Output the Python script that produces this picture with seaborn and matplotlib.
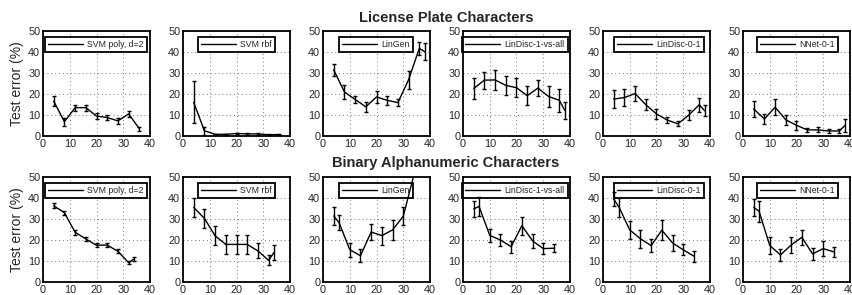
import numpy as np
import seaborn as sns
from matplotlib import pyplot as plt

# ---- data ----
methods = ["SVM poly, d=2", "SVM rbf", "LinGen", "LinDisc-1-vs-all", "LinDisc-0-1", "NNet-0-1"]

# License plate characters (top row)
lp_x_a = [4, 8, 12, 16, 20, 24, 28, 32, 36]
lp_x_b = [4, 8, 12, 16, 20, 24, 28, 32, 36, 38]
lp_svm_poly = [16.6, 6.8, 13.5, 13.5, 9.5, 8.8, 7.2, 10.5, 3.5]
lp_svm_poly_err = [2.5, 1.8, 1.5, 1.5, 1.3, 1.0, 1.5, 1.5, 1.0]
lp_svm_rbf = [16.0, 2.5, 0.8, 0.8, 1.2, 1.0, 1.0, 0.6, 0.7]
lp_svm_rbf_err = [10.0, 2.0, 0.3, 0.3, 0.4, 0.3, 0.3, 0.2, 0.3]
lp_lingen = [31.5, 21.0, 17.4, 13.9, 18.6, 17.0, 15.9, 26.8, 41.7, 40.2]
lp_lingen_err = [3.0, 3.2, 1.8, 2.5, 3.0, 2.0, 1.8, 4.3, 3.2, 4.0]
lp_lindisc1 = [22.6, 26.6, 26.7, 24.1, 23.0, 19.2, 22.8, 18.8, 17.0, 12.3]
lp_lindisc1_err = [4.8, 4.0, 4.7, 4.6, 4.4, 4.5, 3.8, 4.9, 5.5, 4.0]
lp_lindisc01 = [17.6, 18.3, 20.2, 14.9, 10.5, 7.6, 5.8, 9.9, 14.9, 12.0]
lp_lindisc01_err = [4.2, 4.1, 3.5, 2.6, 2.5, 1.4, 1.2, 2.4, 3.4, 2.6]
lp_nnet = [12.9, 8.1, 13.7, 7.7, 5.1, 2.9, 2.9, 2.4, 2.4, 4.9]
lp_nnet_err = [3.8, 2.6, 3.8, 2.3, 2.1, 1.1, 1.2, 1.0, 1.0, 3.0]

# Binary alphanumeric characters (bottom row)
ba_x_a = [4, 8, 12, 16, 20, 24, 28, 32, 34]
ba_x_b = [4, 6, 10, 14, 18, 22, 26, 30, 34]
ba_svm_poly = [36.3, 33.0, 23.7, 20.5, 17.5, 17.6, 14.6, 9.2, 10.9]
ba_svm_poly_err = [1.2, 1.0, 1.2, 1.0, 1.0, 1.0, 1.0, 0.8, 0.8]
ba_svm_rbf = [35.5, 30.3, 22.0, 17.9, 17.9, 17.9, 14.8, 10.3, 14.0]
ba_svm_rbf_err = [4.7, 4.5, 4.5, 4.5, 4.5, 4.5, 3.6, 2.4, 3.6]
ba_lingen = [31.5, 28.3, 15.4, 12.5, 23.8, 22.1, 24.8, 31.3, 51.0]
ba_lingen_err = [4.3, 3.4, 3.4, 3.0, 3.8, 4.3, 4.6, 4.3, 0.0]
ba_lindisc1 = [34.8, 36.0, 22.2, 20.0, 16.8, 26.8, 19.6, 15.9, 16.1]
ba_lindisc1_err = [3.7, 4.6, 3.2, 2.8, 2.9, 4.2, 3.2, 2.7, 1.8]
ba_lindisc01 = [39.5, 35.6, 24.8, 20.6, 17.3, 24.7, 18.6, 15.3, 12.3]
ba_lindisc01_err = [3.5, 4.6, 4.2, 4.3, 3.0, 4.8, 3.6, 2.6, 2.7]
ba_nnet = [35.5, 33.7, 17.4, 12.9, 17.6, 21.3, 13.4, 15.9, 14.3]
ba_nnet_err = [4.2, 5.1, 4.0, 3.0, 3.7, 3.6, 3.0, 3.4, 2.2]

rows = [
    [(lp_x_a, lp_svm_poly, lp_svm_poly_err), (lp_x_a, lp_svm_rbf, lp_svm_rbf_err),
     (lp_x_b, lp_lingen, lp_lingen_err), (lp_x_b, lp_lindisc1, lp_lindisc1_err),
     (lp_x_b, lp_lindisc01, lp_lindisc01_err), (lp_x_b, lp_nnet, lp_nnet_err)],
    [(ba_x_a, ba_svm_poly, ba_svm_poly_err), (ba_x_a, ba_svm_rbf, ba_svm_rbf_err),
     (ba_x_b, ba_lingen, ba_lingen_err), (ba_x_b, ba_lindisc1, ba_lindisc1_err),
     (ba_x_b, ba_lindisc01, ba_lindisc01_err), (ba_x_b, ba_nnet, ba_nnet_err)],
]
row_titles = ["License Plate Characters", "Binary Alphanumeric Characters"]
# where each legend box ends (fraction of axes width)
legend_right = [0.97, 0.86, 0.84, None, 0.94, 0.89]

sns.set_style("white")
plt.rcParams['font.family'] = ['Liberation Sans', 'DejaVu Sans']

W, H = 853, 295
fig = plt.figure(figsize=(W / 100, H / 100), dpi=100)

row_top = [31, 177]
for r in range(2):
    for c in range(6):
        left = 43 + 140 * c
        ax = fig.add_axes([left / W, 1 - (row_top[r] + 105) / H, 107 / W, 105 / H])
        x, y, e = rows[r][c]
        sns.lineplot(x=x, y=y, ax=ax, color="k", lw=1, label=methods[c], zorder=3)
        x_arr, y_arr, e_arr = np.array(x), np.array(y), np.array(e)
        m = e_arr > 0
        ax.errorbar(x_arr[m], y_arr[m], yerr=e_arr[m], fmt="none", ecolor="k",
                    elinewidth=1, capsize=1.5, capthick=1, zorder=3)
        for ln in ax.lines:
            ln.set_clip_on(True)
            ln.set_clip_box(ax.bbox)
        for coll in ax.collections:
            coll.set_clip_on(True)
            coll.set_clip_box(ax.bbox)
        ax.set_xlim(0, 40)
        ax.set_ylim(0, 50)
        ax.set_xticks([0, 10, 20, 30, 40])
        ax.set_yticks([0, 10, 20, 30, 40, 50])
        ax.tick_params(labelsize=7.8, length=0, pad=2)
        ax.grid(True, ls=(0, (1, 3)), color="#777777", lw=0.7)
        for s in ax.spines.values():
            s.set_color("k")
            s.set_linewidth(1.3)
        if c == 0:
            ax.set_ylabel("Test error (%)", fontsize=10, labelpad=3)
        if legend_right[c] is None:
            leg = ax.legend(loc="upper left", bbox_to_anchor=(-0.01, 0.943), borderaxespad=0,
                            borderpad=0.35, handlelength=4.0, handletextpad=0.5, fontsize=6.3)
        else:
            leg = ax.legend(loc="upper right", bbox_to_anchor=(legend_right[c], 0.943),
                            borderaxespad=0, borderpad=0.35, handlelength=4.0,
                            handletextpad=0.5, fontsize=6.3)
        leg.get_frame().set_edgecolor("k")
        leg.get_frame().set_linewidth(1.3)
        leg.get_frame().set_boxstyle("square", pad=0)
        leg.get_frame().set_alpha(1)
        leg.set_zorder(2)
    title_y = [18, 163][r]
    fig.text(446 / W, 1 - title_y / H, row_titles[r], ha="center", va="center",
             fontsize=10.5, fontweight="bold")

fig.savefig("out.png", dpi=100)
